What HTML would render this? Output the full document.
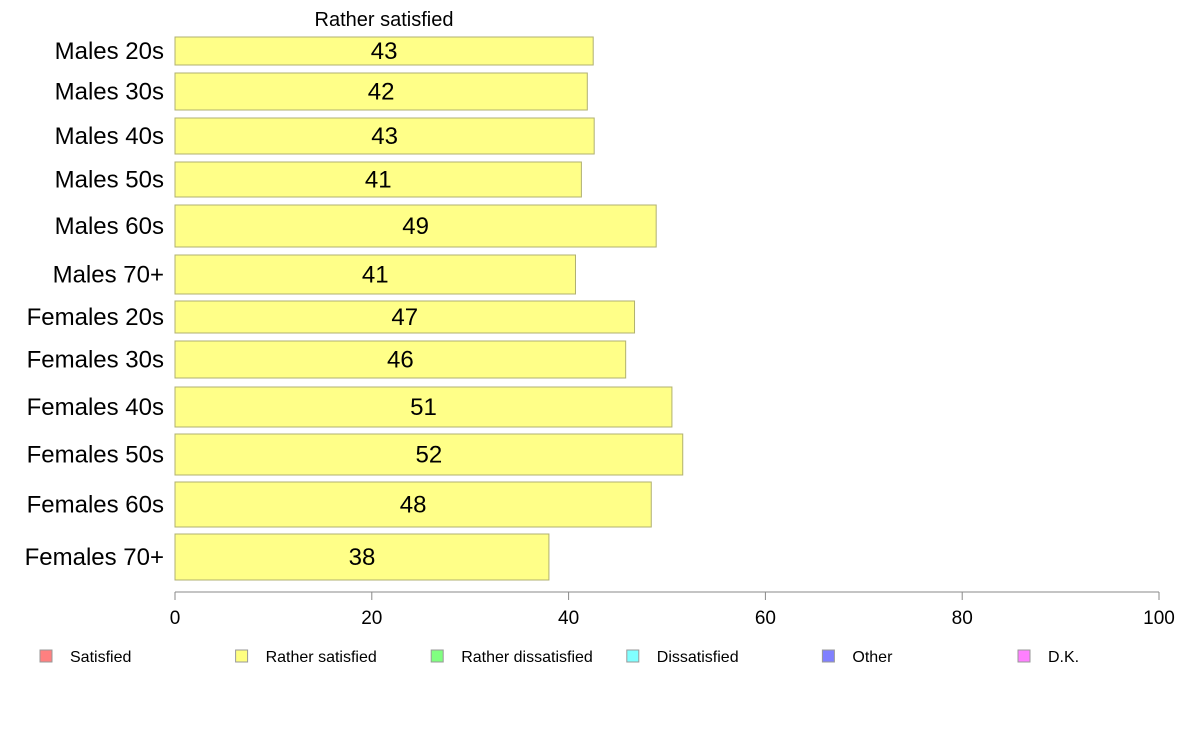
<!DOCTYPE html>
<html><head><meta charset="utf-8">
<style>
body{margin:0;background:#fff;}
svg{display:block;font-family:"Liberation Sans",Arial,sans-serif;}
</style></head>
<body>
<svg id="chart" width="1188" height="736" viewBox="0 0 1188 736" xmlns="http://www.w3.org/2000/svg">
<text x="384" y="26" font-size="20" text-anchor="middle">Rather satisfied</text>
<g id="bars"></g>
<g id="axis"></g>
<g id="legend"></g>
</svg>
<script>
const categories = ["Males 20s","Males 30s","Males 40s","Males 50s","Males 60s","Males 70+","Females 20s","Females 30s","Females 40s","Females 50s","Females 60s","Females 70+"];
const values = [42.5,41.9,42.6,41.3,48.9,40.7,46.7,45.8,50.5,51.6,48.4,38.0];
const tickValues = [0,20,40,60,80,100];
const legendLabels = ["Satisfied","Rather satisfied","Rather dissatisfied","Dissatisfied","Other","D.K."];
const legendColors = ["#ff8080","#ffff80","#80ff80","#80ffff","#8080ff","#ff80ff"];
// layout (band edges in px), not data
const bandTop = [37,73,118,162,205,255,301,341,387,434,482,534];
const bandBot = [65,110,154,197,247,294,333,378,427,475,527,580];

const NS="http://www.w3.org/2000/svg";
const x0=175, x1=1159;
const xScale = v => x0 + (v/100)*(x1-x0);
function mk(tag, attrs, parent){const e=document.createElementNS(NS,tag);for(const k in attrs)e.setAttribute(k,attrs[k]);parent.appendChild(e);return e;}

const bars=document.getElementById('bars');
categories.forEach((c,i)=>{
  const top=bandTop[i], h=bandBot[i]-bandTop[i], w=xScale(values[i])-x0;
  const r=mk('rect',{x:x0,y:top,width:w,height:h,fill:'#ffff88',stroke:'#b0b070','stroke-width':1},bars);
  
  
  const t=mk('text',{x:x0+w/2,y:top+h/2+8,'font-size':24,'text-anchor':'middle'},bars);
  t.textContent=Math.round(values[i]);
  
  
  const l=mk('text',{x:164,y:top+h/2+8,'font-size':24,'text-anchor':'end'},bars);
  l.textContent=c;
  
  
});

const axis=document.getElementById('axis');
const ay=592;
const al=mk('line',{x1:x0,y1:ay,x2:x1,y2:ay,stroke:'#888','stroke-width':1},axis);


tickValues.forEach(v=>{
  const x=xScale(v);
  const tk=mk('line',{x1:x,y1:ay,x2:x,y2:ay+8,stroke:'#888','stroke-width':1},axis);
  
  
  const tl=mk('text',{x:x,y:624,'font-size':19,'text-anchor':'middle'},axis);
  tl.textContent=v;
  
  
});

const legend=document.getElementById('legend');
legendLabels.forEach((lab,i)=>{
  const lx=40+i*195.6;
  const sw=mk('rect',{x:lx,y:650,width:12,height:12,fill:legendColors[i],stroke:'#999','stroke-width':1},legend);
  
  
  const lt=mk('text',{x:lx+30,y:662,'font-size':16},legend);
  lt.textContent=lab;
  
  
});
</script>
</body></html>
